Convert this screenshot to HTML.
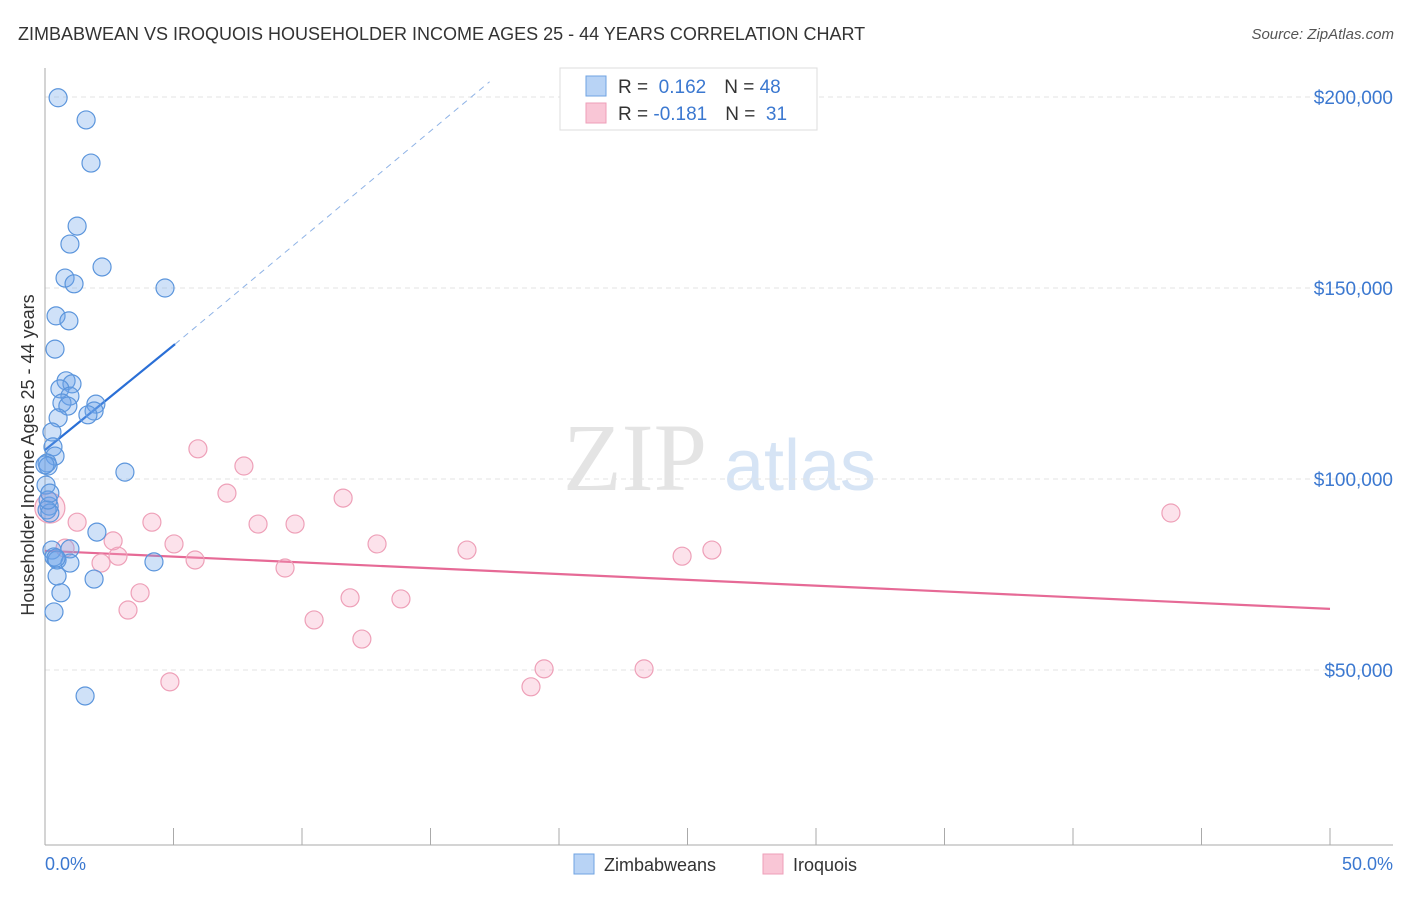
<!DOCTYPE html>
<html><head><meta charset="utf-8"><style>
body{margin:0;background:#fff;font-family:"Liberation Sans",sans-serif}
svg text{font-family:"Liberation Sans",sans-serif}
</style></head><body>
<svg width="1406" height="892" xmlns="http://www.w3.org/2000/svg">
<text x="18" y="40" font-size="18" fill="#333">ZIMBABWEAN VS IROQUOIS HOUSEHOLDER INCOME AGES 25 - 44 YEARS CORRELATION CHART</text>
<text x="1394" y="39" font-size="15" fill="#555" font-style="italic" text-anchor="end">Source: ZipAtlas.com</text>
<g>
<text x="635" y="490" font-size="96" fill="#e4e4e4" text-anchor="middle" font-family="Liberation Serif" style="font-family:'Liberation Serif',serif">ZIP</text>
<text x="800" y="490" font-size="72" fill="#d6e4f5" text-anchor="middle">atlas</text>
</g>
<g id="grid"></g>
<g id="axes"></g>
<g id="trends"></g>
<g id="points"></g>
<text transform="translate(34,455) rotate(-90)" font-size="18" fill="#333" text-anchor="middle">Householder Income Ages 25 - 44 years</text>
<text x="45" y="870" font-size="18" fill="#3b78d0">0.0%</text>
<text x="1393" y="870" font-size="18" fill="#3b78d0" text-anchor="end">50.0%</text>
<g>
<rect x="560" y="68" width="257" height="62" fill="#fff" stroke="#ddd"/>
<rect x="586" y="76" width="20" height="20" fill="#b8d3f5" stroke="#6fa3e2"/>
<rect x="586" y="103" width="20" height="20" fill="#f9c6d6" stroke="#ee9fb8"/>
<text x="618" y="93" font-size="19" fill="#333">R = <tspan fill="#3b78d0">&#160;0.162</tspan><tspan dx="18">N = </tspan><tspan fill="#3b78d0">48</tspan></text>
<text x="618" y="120" font-size="19" fill="#333">R = <tspan fill="#3b78d0">-0.181</tspan><tspan dx="18">N = </tspan><tspan fill="#3b78d0">&#160;31</tspan></text>
</g>
<g>
<rect x="574" y="854" width="20" height="20" fill="#b8d3f5" stroke="#6fa3e2"/>
<text x="604" y="871" font-size="18" fill="#333">Zimbabweans</text>
<rect x="763" y="854" width="20" height="20" fill="#f9c6d6" stroke="#ee9fb8"/>
<text x="793" y="871" font-size="18" fill="#333">Iroquois</text>
</g>
</svg>
<script>
const yTicks=[50,100,150,200];
const yTickLabels=["$50,000","$100,000","$150,000","$200,000"];
const xTicks=[0,5,10,15,20,25,30,35,40,45,50];
const blueX=[0.51,1.60,1.79,1.25,0.97,2.22,0.78,1.13,4.67,0.43,0.93,0.39,0.82,1.05,0.58,0.97,0.66,0.89,1.98,1.91,1.67,0.51,0.27,0.31,0.39,0.08,0.12,3.11,0.04,0.16,0.08,0.19,2.02,0.27,0.97,0.35,0.47,0.97,4.24,1.91,0.47,0.62,0.35,1.56,0.12,0.19,0.43,0.00];
const blueY=[199.8,194.0,182.7,166.2,161.5,155.5,152.6,151.1,150.0,142.7,141.4,134.0,125.7,124.9,123.6,121.7,119.9,119.1,119.6,117.8,116.8,116.0,112.3,108.4,106.0,104.2,103.4,101.8,98.4,92.9,91.9,91.1,86.1,81.4,81.7,79.6,78.8,78.0,78.3,73.8,74.6,70.2,65.2,43.2,94.5,96.3,79.3,103.7];
const pinkX=[0.19,1.25,2.65,4.16,5.95,7.74,7.08,11.60,8.29,9.73,2.84,2.18,5.02,5.84,12.92,3.70,3.23,9.34,11.87,13.85,10.47,12.33,4.86,16.42,19.42,18.91,23.31,24.79,25.95,43.81,0.78];
const pinkY=[92.4,88.7,83.8,88.7,107.9,103.4,96.3,95.0,88.2,88.2,79.8,78.0,83.0,78.8,83.0,70.2,65.7,76.7,68.9,68.6,63.1,58.1,46.9,81.4,50.3,45.6,50.3,79.8,81.4,91.1,81.9];
const blueTrend=[0,107.6,5.06,135.3,17.3,204];
const pinkTrend=[0,81.2,50,66.0];
const X=v=>45+v*25.7, Y=v=>861-v*3.82;
const NS="http://www.w3.org/2000/svg";
function mk(parent,tag,attrs){const e=document.createElementNS(NS,tag);for(const k in attrs)e.setAttribute(k,attrs[k]);document.getElementById(parent).appendChild(e);return e;}
yTicks.forEach((t,i)=>{
 const g=mk('grid','line',{x1:45,x2:1393,y1:Y(t),y2:Y(t),stroke:'#e3e3e3','stroke-dasharray':'5,4'});
 
 
 const l=mk('grid','text',{x:1393,y:Y(t)+7,'font-size':19,fill:'#3b78d0','text-anchor':'end'});
 l.textContent=yTickLabels[i];
 
 
});
const ya=mk('axes','line',{x1:45,x2:45,y1:68,y2:845,stroke:'#aaa'});


const xa=mk('axes','line',{x1:45,x2:1393,y1:845,y2:845,stroke:'#aaa'});


xTicks.forEach(t=>{const e=mk('axes','line',{x1:X(t),x2:X(t),y1:828,y2:845,stroke:'#aaa'});
 
 });
let e=mk('trends','line',{x1:X(blueTrend[0]),y1:Y(blueTrend[1]),x2:X(blueTrend[2]),y2:Y(blueTrend[3]),stroke:'#2a6fd6','stroke-width':2.2});


e=mk('trends','line',{x1:X(blueTrend[2]),y1:Y(blueTrend[3]),x2:X(blueTrend[4]),y2:Y(blueTrend[5]),stroke:'#8fb3e6','stroke-width':1,'stroke-dasharray':'6,5'});


e=mk('trends','line',{x1:X(pinkTrend[0]),y1:Y(pinkTrend[1]),x2:X(pinkTrend[2]),y2:Y(pinkTrend[3]),stroke:'#e66a96','stroke-width':2.2});


pinkX.forEach((x,i)=>{const c=mk('points','circle',{cx:X(x),cy:Y(pinkY[i]),r:i===0?15:9,fill:'rgba(245,160,190,0.3)',stroke:'#eea0b8','stroke-width':1.2});
 
 });
blueX.forEach((x,i)=>{const c=mk('points','circle',{cx:X(x),cy:Y(blueY[i]),r:9,fill:'rgba(110,165,235,0.33)',stroke:'#5b95dc','stroke-width':1.2});
 
 });
</script>
</body></html>
